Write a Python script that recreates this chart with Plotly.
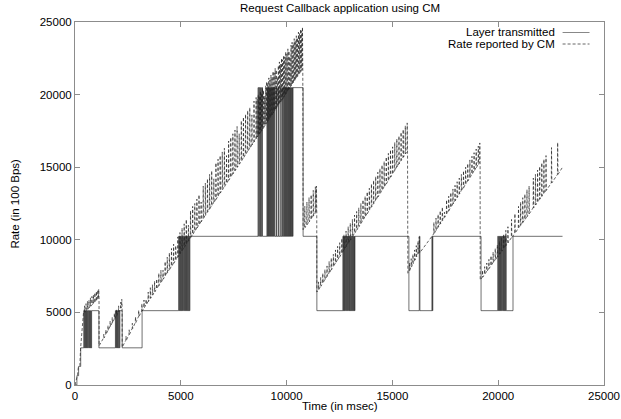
import plotly.graph_objects as go

# ---------------- text ----------------
title_text = "Request Callback application using CM"
x_title = "Time (in msec)"
y_title = "Rate (in 100 Bps)"
series_names = ["Layer transmitted", "Rate reported by CM"]
x_ticks = [0, 5000, 10000, 15000, 20000, 25000]
y_ticks = [0, 5000, 10000, 15000, 20000, 25000]

# ---------------- rate reported by CM: (time ms, base rate, spike peak) ----------------
rate_startup = [(0, 0, 0), (120, 700, 700), (160, 1250, 1250), (230, 1350, 1350),
                (260, 2450, 2450), (400, 4950, 4950)]
rate_tooth1 = [(440, 5010, 5450), (510, 5110, 5600), (580, 5210, 5750), (650, 5320, 5850),
               (720, 5420, 6000), (790, 5520, 6100), (860, 5620, 6200), (930, 5720, 6350),
               (1000, 5820, 6450), (1070, 5930, 6550), (1110, 6000, 6600)]
rate_tooth2 = [(1140, 2700, 2700), (1350, 3240, 3500), (1450, 3500, 3800), (1550, 3760, 4100),
               (1650, 4020, 4400), (1750, 4270, 4650), (1850, 4530, 4950), (1950, 4790, 5200),
               (2050, 5050, 5450), (2150, 5300, 5700), (2200, 5430, 5900)]
rate_ramp1 = [(2230, 2600, 2600), (2400, 3070, 3350), (2550, 3480, 3800), (2700, 3890, 4250),
              (2850, 4300, 4700), (3000, 4710, 5150), (3150, 5090, 5600), (3250, 5310, 5850),
              (3350, 5530, 5900), (3450, 5750, 6400), (3550, 5970, 6700), (3650, 6190, 6900),
              (3750, 6410, 7150), (3850, 6630, 7300), (3950, 6850, 7700), (4050, 7070, 7900),
              (4150, 7290, 7900), (4250, 7510, 8500), (4350, 7730, 8800), (4450, 7950, 9100),
              (4550, 8170, 9400), (4650, 8390, 9700), (4750, 8610, 9600), (4850, 8830, 10200),
              (4950, 9050, 10500), (5050, 9270, 10800), (5150, 9490, 11100), (5250, 9710, 11400),
              (5350, 9930, 11000), (5450, 10150, 12000), (5550, 10370, 12300), (5650, 10590, 12500),
              (5750, 10810, 12800), (5850, 11030, 13100), (5950, 11250, 12600), (6050, 11470, 13700),
              (6150, 11690, 13900), (6250, 11910, 14200), (6350, 12130, 14500), (6450, 12350, 14750),
              (6550, 12570, 14200), (6650, 12790, 15300), (6750, 13010, 15550), (6850, 13230, 15800),
              (6950, 13450, 16050), (7050, 13670, 16300), (7150, 13890, 15800), (7250, 14110, 16800),
              (7350, 14330, 17050), (7450, 14550, 17300), (7550, 14770, 17550), (7650, 14990, 17800),
              (7750, 15210, 17300), (7850, 15430, 18200), (7950, 15650, 18450), (8050, 15870, 18650),
              (8150, 16090, 18900), (8250, 16310, 19100), (8350, 16530, 18600), (8450, 16750, 19550),
              (8550, 16970, 19800), (8600, 17080, 19700), (8650, 17190, 20000), (8700, 17300, 19900),
              (8750, 17410, 20250), (8800, 17520, 20100), (8850, 17630, 20450), (8900, 17740, 20300),
              (8950, 17850, 19900), (9000, 17960, 20600), (9050, 18070, 20900), (9100, 18180, 20800),
              (9150, 18290, 21150), (9200, 18400, 21000), (9250, 18510, 21350), (9300, 18620, 21200),
              (9350, 18730, 21600), (9400, 18840, 21500), (9450, 18950, 21800), (9500, 19060, 21700),
              (9550, 19170, 21200), (9600, 19280, 22000), (9650, 19390, 22250), (9700, 19500, 22100),
              (9750, 19610, 22500), (9800, 19720, 22400), (9850, 19830, 22700), (9900, 19940, 22600),
              (9950, 20050, 22950), (10000, 20160, 22800), (10050, 20270, 23150), (10100, 20380, 23000),
              (10150, 20490, 22600), (10200, 20600, 23400), (10250, 20710, 23600), (10300, 20820, 23500),
              (10350, 20930, 23850), (10400, 21040, 23700), (10450, 21150, 24050), (10500, 21260, 23900),
              (10550, 21370, 24300), (10600, 21480, 24200), (10650, 21590, 24500), (10700, 21700, 24400),
              (10740, 21790, 24650)]
rate_after_peak = [(10780, 10700, 10700), (10850, 10840, 12300), (10950, 11040, 12600),
                   (11050, 11240, 12900), (11150, 11440, 13100), (11250, 11640, 13400),
                   (11350, 11840, 13650), (11400, 11940, 13700)]
rate_ramp2 = [(11430, 6400, 6400), (11500, 6570, 7100), (11600, 6800, 7400), (11700, 7030, 7700),
              (11800, 7255, 7950), (11900, 7485, 8200), (12000, 7710, 8500), (12100, 7940, 8750),
              (12200, 8170, 9000), (12300, 8395, 9300), (12400, 8625, 9550), (12500, 8850, 9800),
              (12600, 9080, 10100), (12700, 9310, 10350), (12800, 9535, 10600), (12900, 9765, 10900),
              (13000, 9990, 11150), (13100, 10220, 11400), (13200, 10450, 11700), (13300, 10675, 11950),
              (13400, 10905, 12200), (13500, 11130, 12500), (13600, 11360, 12750), (13700, 11590, 13000),
              (13800, 11815, 13300), (13900, 12045, 13550), (14000, 12270, 13850), (14100, 12500, 14100),
              (14200, 12730, 14350), (14300, 12955, 14650), (14400, 13185, 14900), (14500, 13410, 15150),
              (14600, 13640, 15400), (14700, 13870, 15700), (14800, 14095, 15950), (14900, 14325, 16200),
              (15000, 14550, 16400), (15100, 14780, 16700), (15200, 15010, 16950), (15300, 15235, 17150),
              (15400, 15465, 17400), (15500, 15690, 17600), (15600, 15920, 17850), (15690, 16130, 18050)]
rate_tooth3 = [(15730, 7700, 7700), (15800, 7900, 8400), (15880, 8130, 8700), (15960, 8360, 9000),
               (16040, 8600, 9300), (16120, 8830, 9600), (16200, 9060, 9900), (16260, 9230, 10200),
               (16290, 9100, 9100), (16900, 10300, 10300)]
rate_ramp3 = [(16950, 10415, 11200), (17050, 10640, 11500), (17150, 10870, 11750), (17250, 11100, 12000),
              (17350, 11325, 12250), (17450, 11555, 11900), (17550, 11780, 12750), (17650, 12010, 13000),
              (17750, 12240, 13250), (17850, 12465, 13500), (17950, 12695, 13750), (18050, 12920, 14000),
              (18150, 13150, 14250), (18250, 13380, 14500), (18350, 13605, 14750), (18450, 13835, 15000),
              (18550, 14060, 15250), (18650, 14290, 15500), (18750, 14520, 15750), (18850, 14745, 16000),
              (18950, 14975, 16250), (19050, 15200, 16450), (19120, 15360, 16670)]
rate_ramp4 = [(19150, 7230, 7230), (19250, 7430, 7900), (19350, 7630, 8150), (19450, 7825, 8400),
              (19550, 8025, 8650), (19650, 8220, 8900), (19750, 8420, 9150), (19850, 8620, 9400),
              (19950, 8815, 9650), (20050, 9015, 9900), (20150, 9210, 10150), (20250, 9410, 10400),
              (20350, 9610, 10650), (20450, 9805, 10900), (20620, 10140, 11400), (20780, 10460, 11800),
              (20950, 10800, 12300), (21050, 11000, 12600), (21150, 11200, 12900), (21250, 11400, 13150),
              (21350, 11600, 13450), (21450, 11800, 13700), (21650, 12200, 14250), (21750, 12400, 14500),
              (21850, 12600, 14800), (21950, 12800, 15050), (22050, 13000, 15300), (22150, 13200, 15550),
              (22250, 13400, 15800), (22510, 13920, 16350), (22800, 14500, 16700), (23040, 15000, 15000)]

# ---------------- layer transmitted: (time ms, layer rate from that time on) ----------------
layer_startup = [(0, 0), (90, 640), (170, 1280), (270, 2560)]
layer_osc1 = [(415, 5120), (440, 2560), (465, 5120), (495, 2560), (520, 5120), (545, 2560),
              (575, 5120), (600, 2560), (625, 5120), (655, 2560), (680, 5120), (705, 2560),
              (735, 5120), (760, 2560), (785, 5120), (1130, 2560)]
layer_osc2 = [(1910, 5120), (1935, 2560), (1960, 5120), (1990, 2560), (2015, 5120), (2040, 2560),
              (2070, 5120), (2095, 2560), (2120, 5120), (2230, 2560), (3170, 5120)]
layer_osc3 = [(4900, 10240), (4925, 5120), (4950, 10240), (4980, 5120), (5005, 10240), (5030, 5120),
              (5060, 10240), (5085, 5120), (5110, 10240), (5140, 5120), (5165, 10240), (5190, 5120),
              (5220, 10240), (5245, 5120), (5270, 10240), (5300, 5120), (5325, 10240), (5350, 5120),
              (5380, 10240), (5405, 5120), (5430, 10240)]
layer_osc4 = [(8650, 20480), (8680, 10240), (8710, 20480), (8740, 10240), (8770, 20480), (8800, 10240),
              (8830, 20480), (8860, 10240), (9070, 20480), (9095, 10240), (9120, 20480), (9145, 10240),
              (9170, 20480), (9195, 10240), (9220, 20480), (9245, 10240), (9270, 20480), (9295, 10240),
              (9320, 20480), (9345, 10240), (9370, 20480), (9395, 10240), (9420, 20480), (9450, 10240),
              (9520, 20480), (9540, 10240), (9620, 20480), (9640, 10240), (9720, 20480), (9745, 10240),
              (9800, 20480), (9820, 10240), (9860, 20480), (9885, 10240), (9910, 20480), (9935, 10240),
              (9960, 20480), (9985, 10240), (10010, 20480), (10035, 10240), (10060, 20480), (10085, 10240),
              (10110, 20480), (10135, 10240), (10160, 20480), (10185, 10240), (10210, 20480), (10235, 10240),
              (10260, 20480), (10285, 10240), (10300, 20480), (10780, 10240), (11430, 5120)]
layer_osc5 = [(12660, 10240), (12685, 5120), (12710, 10240), (12735, 5120), (12760, 10240), (12790, 5120),
              (12815, 10240), (12840, 5120), (12870, 10240), (12895, 5120), (12920, 10240), (12950, 5120),
              (12975, 10240), (13000, 5120), (13030, 10240), (13055, 5120), (13080, 10240), (13110, 5120),
              (13135, 10240), (13160, 5120), (13190, 10240), (13210, 5120), (13230, 10240), (15780, 5120)]
layer_osc6 = [(16270, 10240), (16300, 5120), (16870, 10240), (16890, 5120), (16910, 10240), (19190, 5120)]
layer_osc7 = [(19980, 10240), (20005, 5120), (20030, 10240), (20060, 5120), (20085, 10240), (20110, 5120),
              (20140, 10240), (20165, 5120), (20190, 10240), (20220, 5120), (20245, 10240), (20270, 5120),
              (20300, 10240), (20325, 5120), (20350, 10240), (20380, 5120), (20700, 10240), (23040, 10240)]

rate_segments = [rate_startup, rate_tooth1, rate_tooth2, rate_ramp1, rate_after_peak,
                 rate_ramp2, rate_tooth3, rate_ramp3, rate_ramp4]
layer_segments = [layer_startup, layer_osc1, layer_osc2, layer_osc3, layer_osc4,
                  layer_osc5, layer_osc6, layer_osc7]

# build rate polyline: base -> spike peak -> back to base
rate_x, rate_y = [], []
for seg in rate_segments:
    for t, base, peak in seg:
        if peak > base:
            rate_x += [t, t + 10, t + 25]
            rate_y += [base, peak, base]
        else:
            rate_x.append(t)
            rate_y.append(base)

layer_x, layer_y = [], []
for seg in layer_segments:
    for t, v in seg:
        layer_x.append(t)
        layer_y.append(v)

FONT = "Liberation Sans, Arial, Helvetica, sans-serif"
AX = "#8c8c8c"
FS = 11.5

fig = go.Figure()
fig.add_trace(go.Scatter(x=layer_x, y=layer_y, mode="lines", name=series_names[0],
                         line=dict(color="#111111", width=0.6, shape="hv"), showlegend=False))
fig.add_trace(go.Scatter(x=rate_x, y=rate_y, mode="lines", name=series_names[1],
                         line=dict(color="#222222", width=0.7, dash="3px,2px"), showlegend=False))

axis_common = dict(showgrid=False, zeroline=False, showline=True, linecolor=AX, linewidth=1,
                   mirror="ticks", ticks="inside", ticklen=5, tickcolor=AX, tickwidth=1,
                   automargin=False,
                   tickfont=dict(family=FONT, size=FS, color="#000"))
fig.update_xaxes(range=[0, 25000], tickvals=x_ticks, ticktext=[str(v) for v in x_ticks], **axis_common)
fig.update_yaxes(range=[0, 25000], tickvals=y_ticks, ticktext=[str(v) for v in y_ticks], **axis_common)

W, H = 621, 419
L, R, T, B = 74.5, 604.5, 22, 385          # plot area in window pixels
pw, ph = R - L, B - T

def px(xp):
    return (xp - L) / pw

def py(yp):
    return (B - yp) / ph

annotations = [
    dict(text=title_text, x=0.5, y=py(8), xref="paper", yref="paper", showarrow=False,
         xanchor="center", yanchor="middle", font=dict(family=FONT, size=FS, color="#000")),
    dict(text=x_title, x=0.5, y=py(406), xref="paper", yref="paper", showarrow=False,
         xanchor="center", yanchor="middle", font=dict(family=FONT, size=FS, color="#000")),
    dict(text=y_title, x=px(14), y=py(204), xref="paper", yref="paper", showarrow=False,
         textangle=-90, xanchor="center", yanchor="middle", font=dict(family=FONT, size=FS, color="#000")),
    dict(text=series_names[0], x=px(557), y=py(32), xref="paper", yref="paper", showarrow=False,
         xanchor="right", yanchor="middle", font=dict(family=FONT, size=FS, color="#000")),
    dict(text=series_names[1], x=px(557), y=py(43.5), xref="paper", yref="paper", showarrow=False,
         xanchor="right", yanchor="middle", font=dict(family=FONT, size=FS, color="#000")),
]
shapes = [
    dict(type="line", xref="paper", yref="paper", x0=px(563), x1=px(590), y0=py(32.5), y1=py(32.5),
         line=dict(color="#888888", width=1)),
    dict(type="line", xref="paper", yref="paper", x0=px(563), x1=px(590), y0=py(44), y1=py(44),
         line=dict(color="#666666", width=1, dash="3px,2px")),
]

fig.update_layout(width=W, height=H,
                  margin=dict(l=L, r=W - R, t=T, b=H - B, pad=0, autoexpand=False),
                  paper_bgcolor="white", plot_bgcolor="white",
                  annotations=annotations, shapes=shapes,
                  font=dict(family=FONT, size=FS, color="#000"))

# remove the browser's default 8px page margin so the figure fills the window exactly
fig.write_html("out.html",
               config={"displayModeBar": False},
               post_script="document.body.style.margin='0px';document.body.style.overflow='hidden';")
